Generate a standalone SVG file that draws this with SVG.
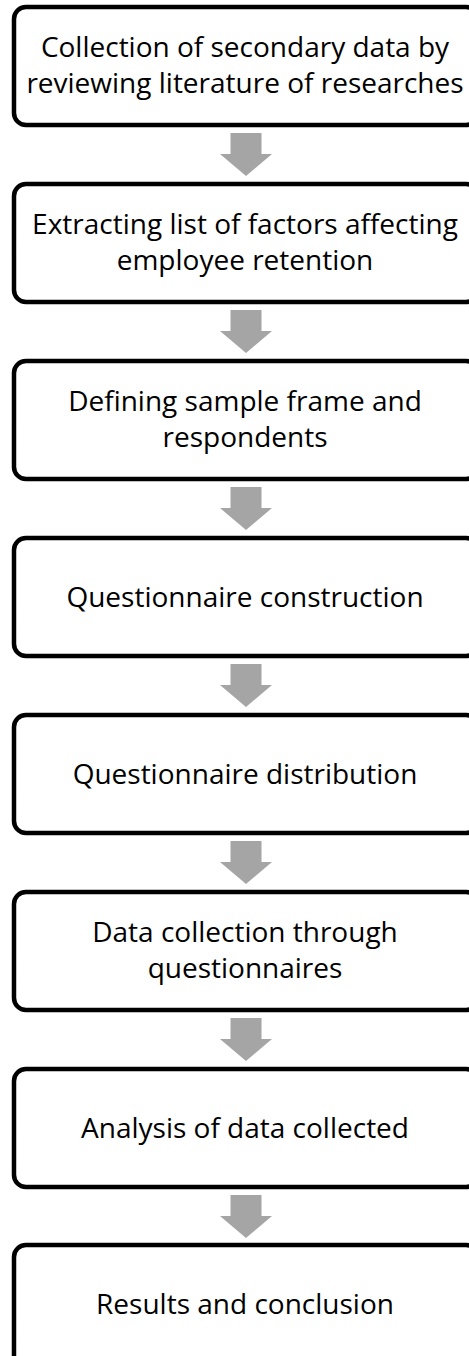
<svg xmlns="http://www.w3.org/2000/svg" width="469" height="1356" viewBox="0 0 469 1356">
<defs>
<style>
.box{fill:#ffffff;stroke:#000000;stroke-width:4.5}
.lbl{font-family:"Open Sans","Noto Sans",sans-serif;font-size:28px;fill:#000000;text-anchor:middle}
.arr{fill:#a5a5a5}
</style>
<path id="dn" d="M-15.5,0 H15.5 V21 H26 L0,43 L-26,21 H-15.5 Z"/>
</defs>
<rect width="469" height="1356" fill="#ffffff"/>
<g id="connectors">
<use href="#dn" class="arr" x="246" y="133"/>
<use href="#dn" class="arr" x="246" y="310"/>
<use href="#dn" class="arr" x="246" y="487"/>
<use href="#dn" class="arr" x="246" y="664"/>
<use href="#dn" class="arr" x="246" y="841"/>
<use href="#dn" class="arr" x="246" y="1018"/>
<use href="#dn" class="arr" x="246" y="1195"/>
</g>
<g id="n1"><rect class="box" x="14" y="7" width="464" height="118" rx="12"/>
<text class="lbl" x="245" y="57">Collection of secondary data by</text>
<text class="lbl" x="245" y="93">reviewing literature of researches</text></g>
<g id="n2"><rect class="box" x="14" y="184" width="464" height="118" rx="12"/>
<text class="lbl" x="245" y="234">Extracting list of factors affecting</text>
<text class="lbl" x="245" y="270">employee retention</text></g>
<g id="n3"><rect class="box" x="14" y="361" width="464" height="118" rx="12"/>
<text class="lbl" x="245" y="411">Defining sample frame and</text>
<text class="lbl" x="245" y="447">respondents</text></g>
<g id="n4"><rect class="box" x="14" y="538" width="464" height="118" rx="12"/>
<text class="lbl" x="245" y="607">Questionnaire construction</text></g>
<g id="n5"><rect class="box" x="14" y="715" width="464" height="118" rx="12"/>
<text class="lbl" x="245" y="784">Questionnaire distribution</text></g>
<g id="n6"><rect class="box" x="14" y="892" width="464" height="118" rx="12"/>
<text class="lbl" x="245" y="942">Data collection through</text>
<text class="lbl" x="245" y="978">questionnaires</text></g>
<g id="n7"><rect class="box" x="14" y="1069" width="464" height="118" rx="12"/>
<text class="lbl" x="245" y="1138">Analysis of data collected</text></g>
<g id="n8"><rect class="box" x="14" y="1245" width="464" height="130" rx="12"/>
<text class="lbl" x="245" y="1314">Results and conclusion</text></g>
</svg>
